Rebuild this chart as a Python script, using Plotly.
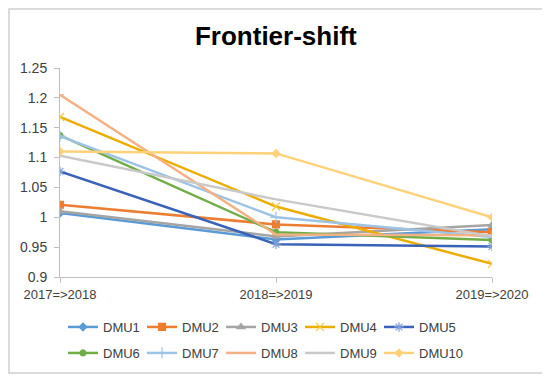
import plotly.graph_objects as go

periods = ["2017=>2018", "2018=>2019", "2019=>2020"]
dmu_names = ["DMU1", "DMU2", "DMU3", "DMU4", "DMU5", "DMU6", "DMU7", "DMU8", "DMU9", "DMU10"]
dmu1 = [1.007, 0.963, 0.980]
dmu2 = [1.021, 0.988, 0.975]
dmu3 = [1.010, 0.968, 0.987]
dmu4 = [1.168, 1.018, 0.922]
dmu5 = [1.077, 0.955, 0.951]
dmu6 = [1.137, 0.975, 0.962]
dmu7 = [1.136, 1.000, 0.967]
dmu8 = [1.205, 0.971, 0.970]
dmu9 = [1.103, 1.030, 0.968]
dmu10 = [1.110, 1.107, 1.000]
y_ticks = [0.9, 0.95, 1.0, 1.05, 1.1, 1.15, 1.2, 1.25]
y_tick_text = ["0.9", "0.95", "1", "1.05", "1.1", "1.15", "1.2", "1.25"]

series = [dmu1, dmu2, dmu3, dmu4, dmu5, dmu6, dmu7, dmu8, dmu9, dmu10]
line_colors = ["#5B9BD5", "#ED7D31", "#A5A5A5", "#EBAE00", "#3A62B8",
               "#70AD47", "#9DC3E6", "#F4B183", "#C9C9C9", "#FFD27A"]
marker_colors = ["#5B9BD5", "#ED7D31", "#A5A5A5", "#F7C842", "#7F9FD8",
                 "#70AD47", "#9DC3E6", "#F4B183", "#C9C9C9", "#FFD27A"]
symbols = ["diamond", "square", "triangle-up", "x-thin-open", "asterisk-open",
           "circle", "cross-thin-open", "line-ew-open", "line-ew-open", "diamond"]
sizes = [6, 7, 7, 8, 8, 6, 8, 6, 6, 6]
legend_ids = ["legend"] * 5 + ["legend2"] * 4 + ["legend3"]

# page body has an 8px offset; figure coordinates are laid out to compensate
L, T, W, H = 52, 60, 432, 209

fig = go.Figure()
for name, vals, c, mc, s, sz, lg in zip(dmu_names, series, line_colors, marker_colors,
                                        symbols, sizes, legend_ids):
    fig.add_trace(go.Scatter(
        x=periods, y=vals, name=name, mode="lines+markers",
        line=dict(color=c, width=2.5),
        marker=dict(symbol=s, size=sz, color=mc, line=dict(color=mc, width=1.2)),
        legend=lg,
    ))

leg_common = dict(orientation="h", xanchor="left", yanchor="top", itemwidth=30,
                  font=dict(size=13, color="#404040"), bgcolor="rgba(0,0,0,0)")

fig.update_layout(
    width=550, height=381,
    margin=dict(l=L, r=550 - L - W, t=T, b=381 - T - H),
    paper_bgcolor="white", plot_bgcolor="white",
    font=dict(family="Liberation Sans, Arial, sans-serif", color="#404040", size=13),
    title=dict(text="<b>Frontier-shift</b>", x=0.487, xanchor="center", y=0.927, yanchor="middle",
               font=dict(size=26, color="#000000")),
    showlegend=True,
    legend=dict(x=(55 - L) / W, y=-35 / H, entrywidth=34, entrywidthmode="pixels", **leg_common),
    legend2=dict(x=(55 - L) / W, y=-61 / H, entrywidth=34, entrywidthmode="pixels", **leg_common),
    legend3=dict(x=(371 - L) / W, y=-61 / H, **leg_common),
    xaxis=dict(type="category", range=[0, 2], showline=True, linecolor="#BFBFBF", linewidth=1,
               ticks="outside", ticklen=5, tickcolor="#BFBFBF", showgrid=False,
               tickfont=dict(size=13, color="#404040")),
    yaxis=dict(range=[0.9, 1.25], tickvals=y_ticks, ticktext=y_tick_text, showline=True,
               linecolor="#BFBFBF", linewidth=1, ticks="outside", ticklen=5, tickcolor="#BFBFBF",
               showgrid=False, zeroline=False, ticklabelstandoff=4,
               tickfont=dict(size=14, color="#404040")),
    shapes=[
        dict(type="rect", xref="paper", yref="paper",
             x0=(1 - L) / W, x1=(537 - L) / W, y0=(T + H - 365) / H, y1=(T + H - 1) / H,
             line=dict(color="#D0D0D0", width=1.5), layer="below"),
    ],
)

fig.write_html("out.html")
